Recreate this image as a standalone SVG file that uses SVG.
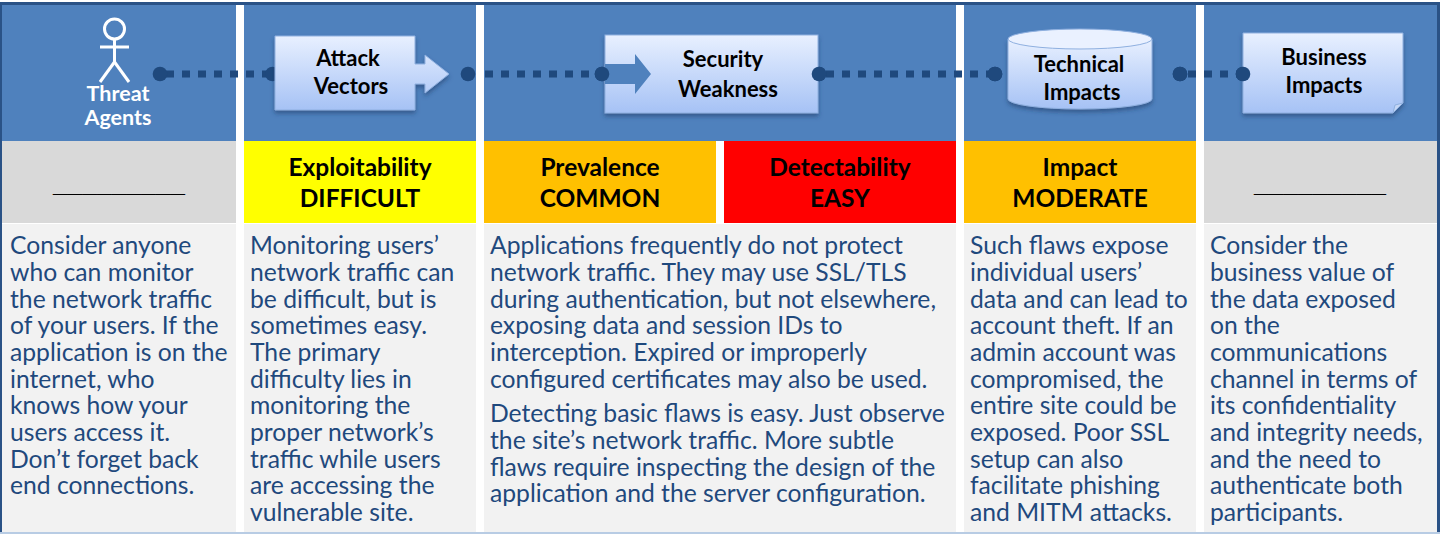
<svg xmlns="http://www.w3.org/2000/svg" width="1440" height="535" viewBox="0 0 1440 535">
<style>
.hdr{fill:#4f81bd}
.txtbg{fill:#f2f2f2}
.body{font-family:Lato,"Liberation Sans",sans-serif;font-size:24.7px;fill:#1f497d}
.rate{font-family:Lato,"Liberation Sans",sans-serif;font-size:24.5px;font-weight:bold;fill:#000;text-anchor:middle}
.lbl{font-family:Lato,"Liberation Sans",sans-serif;font-size:22px;font-weight:bold;fill:#000;text-anchor:middle}
.wlbl{font-family:Lato,"Liberation Sans",sans-serif;font-size:21.5px;font-weight:bold;fill:#fff;text-anchor:middle}
.dash{font-family:"Liberation Sans",sans-serif;font-size:26.4px;font-weight:bold;fill:#000;text-anchor:middle}
.box{fill:url(#boxgrad);stroke:#8fb0e0;stroke-width:1;filter:url(#shadow)}
.conn{stroke:#1f497d;stroke-width:7;stroke-dasharray:8 8;fill:none}
.dot{fill:#1f497d}
</style>
<defs>
<linearGradient id="boxgrad" x1="0" y1="0" x2="0" y2="1">
<stop offset="0" stop-color="#e8f0ff"/>
<stop offset="1" stop-color="#a6c2f5"/>
</linearGradient>
<filter id="shadow" x="-10%" y="-10%" width="120%" height="140%">
<feDropShadow dx="0" dy="3" stdDeviation="2" flood-color="#1c3a66" flood-opacity="0.55"/>
</filter>
</defs>

<!-- frame -->
<rect x="0" y="0" width="1440" height="535" fill="#ffffff"/>
<rect x="0" y="2" width="1440" height="3" fill="#2a5286"/>
<rect x="0" y="2" width="2" height="531" fill="#2a5286"/>
<rect x="1437" y="2" width="3" height="531" fill="#2a5286"/>
<rect x="0" y="532" width="1440" height="2" fill="#b8cce4"/>

<!-- column backgrounds -->
<g id="col-threat-agents">
<rect class="hdr" x="2" y="5" width="234" height="136"/>
<rect x="2" y="141" width="234" height="82" fill="#d9d9d9"/>
<rect class="txtbg" x="2" y="224" width="234" height="308"/>
</g>
<g id="col-attack-vectors">
<rect class="hdr" x="244" y="5" width="232" height="136"/>
<rect x="244" y="141" width="232" height="82" fill="#ffff00"/>
<rect class="txtbg" x="244" y="224" width="232" height="308"/>
</g>
<g id="col-security-weakness">
<rect class="hdr" x="484" y="5" width="472" height="136"/>
<rect x="484" y="141" width="232" height="82" fill="#ffc000"/>
<rect x="724" y="141" width="232" height="82" fill="#ff0000"/>
<rect class="txtbg" x="484" y="224" width="472" height="308"/>
</g>
<g id="col-technical-impacts">
<rect class="hdr" x="964" y="5" width="232" height="136"/>
<rect x="964" y="141" width="232" height="82" fill="#ffc000"/>
<rect class="txtbg" x="964" y="224" width="232" height="308"/>
</g>
<g id="col-business-impacts">
<rect class="hdr" x="1204" y="5" width="233" height="136"/>
<rect x="1204" y="141" width="233" height="82" fill="#d9d9d9"/>
<rect class="txtbg" x="1204" y="224" width="233" height="308"/>
</g>

<!-- connectors -->
<g id="connectors">
<line class="conn" x1="166" y1="74" x2="270" y2="74"/>
<line class="conn" x1="485" y1="74" x2="598" y2="74"/>
<line class="conn" x1="826" y1="74" x2="990" y2="74"/>
<line class="conn" x1="1188" y1="74" x2="1238" y2="74"/>
<circle class="dot" cx="160" cy="74" r="7.3"/>
<circle class="dot" cx="272.5" cy="74" r="7.3"/>
<circle class="dot" cx="468" cy="74" r="7.3"/>
<circle class="dot" cx="602" cy="74" r="7.3"/>
<circle class="dot" cx="819" cy="74" r="7.3"/>
<circle class="dot" cx="995" cy="74" r="7.3"/>
<circle class="dot" cx="1180" cy="74" r="7.3"/>
<circle class="dot" cx="1243" cy="74" r="7.3"/>
</g>

<!-- header nodes -->
<g id="threat-agents">
<g fill="none" stroke="#ffffff" stroke-width="3" stroke-linecap="butt">
<circle cx="114.5" cy="29" r="10"/>
<line x1="114.5" y1="39" x2="114.5" y2="63"/>
<line x1="100" y1="47" x2="129" y2="47"/>
<line x1="114.5" y1="62" x2="100" y2="82"/>
<line x1="114.5" y1="62" x2="129" y2="82"/>
</g>
<text class="wlbl" x="118" y="100.5">Threat</text>
<text class="wlbl" x="118" y="124.5">Agents</text>
</g>

<g id="attack-vectors">
<path class="box" d="M275,36 H415 V64 H425 V55 L449,74 L425,93 V84 H415 V110 H275 Z"/>
<text class="lbl" x="348" y="66">Attack</text>
<text class="lbl" x="351" y="94">Vectors</text>
</g>

<g id="security-weakness">
<rect class="box" x="605" y="35" width="213" height="78"/>
<path d="M605,64 H635 V54 L651,74 L635,94 V84 H605 Z" fill="#4f81bd"/>
<text class="lbl" x="723" y="67">Security</text>
<text class="lbl" x="728" y="97">Weakness</text>
<circle class="dot" cx="602" cy="74" r="7.3"/>
<circle class="dot" cx="819" cy="74" r="7.3"/>
</g>

<g id="technical-impacts">
<path class="box" d="M1008,39 V99 A72,10 0 0 0 1152,99 V39 Z"/>
<ellipse cx="1080" cy="39" rx="72" ry="10" fill="#eaf1ff" stroke="#8fb0e0" stroke-width="1"/>
<text class="lbl" x="1079" y="72">Technical</text>
<text class="lbl" x="1082" y="100">Impacts</text>
<circle class="dot" cx="995" cy="74" r="7.3"/>
<circle class="dot" cx="1180" cy="74" r="7.3"/>
</g>

<g id="business-impacts">
<path class="box" d="M1243,33 H1403 V103 L1393,113 H1243 Z"/>
<path d="M1393,113 L1395,105 L1403,103 Z" fill="#c4d6f5" stroke="#8fb0e0" stroke-width="1"/>
<text class="lbl" x="1324" y="65">Business</text>
<text class="lbl" x="1324" y="93">Impacts</text>
<circle class="dot" cx="1243" cy="74" r="7.3"/>
</g>

<!-- rating row -->
<g id="rating-threat-agents">
<text class="dash" x="119" y="192">_________</text>
</g>
<g id="rating-exploitability">
<text class="rate" x="360" y="176">Exploitability</text>
<text class="rate" x="360" y="207">DIFFICULT</text>
</g>
<g id="rating-prevalence">
<text class="rate" x="600" y="176">Prevalence</text>
<text class="rate" x="600" y="207">COMMON</text>
</g>
<g id="rating-detectability">
<text class="rate" x="840" y="176">Detectability</text>
<text class="rate" x="840" y="207">EASY</text>
</g>
<g id="rating-impact">
<text class="rate" x="1080" y="176">Impact</text>
<text class="rate" x="1080" y="207">MODERATE</text>
</g>
<g id="rating-business-impacts">
<text class="dash" x="1320" y="192">_________</text>
</g>

<!-- descriptions -->
<g id="desc-threat-agents">
<text class="body" x="10" y="254.3">Consider anyone</text>
<text class="body" x="10" y="281">who can monitor</text>
<text class="body" x="10" y="307.6">the network traffic</text>
<text class="body" x="10" y="334.3">of your users. If the</text>
<text class="body" x="10" y="361">application is on the</text>
<text class="body" x="10" y="387.6">internet, who</text>
<text class="body" x="10" y="414.3">knows how your</text>
<text class="body" x="10" y="441">users access it.</text>
<text class="body" x="10" y="467.6">Don’t forget back</text>
<text class="body" x="10" y="494.3">end connections.</text>
</g>
<g id="desc-attack-vectors">
<text class="body" x="250" y="254.3">Monitoring users’</text>
<text class="body" x="250" y="281">network traffic can</text>
<text class="body" x="250" y="307.6">be difficult, but is</text>
<text class="body" x="250" y="334.3">sometimes easy.</text>
<text class="body" x="250" y="361">The primary</text>
<text class="body" x="250" y="387.6">difficulty lies in</text>
<text class="body" x="250" y="414.3">monitoring the</text>
<text class="body" x="250" y="441">proper network’s</text>
<text class="body" x="250" y="467.6">traffic while users</text>
<text class="body" x="250" y="494.3">are accessing the</text>
<text class="body" x="250" y="521">vulnerable site.</text>
</g>
<g id="desc-security-weakness">
<text class="body" x="490" y="254.3">Applications frequently do not protect</text>
<text class="body" x="490" y="281">network traffic. They may use SSL/TLS</text>
<text class="body" x="490" y="307.6">during authentication, but not elsewhere,</text>
<text class="body" x="490" y="334.3">exposing data and session IDs to</text>
<text class="body" x="490" y="361">interception. Expired or improperly</text>
<text class="body" x="490" y="387.6">configured certificates may also be used.</text>
<text class="body" x="490" y="422.3">Detecting basic flaws is easy. Just observe</text>
<text class="body" x="490" y="449">the site’s network traffic. More subtle</text>
<text class="body" x="490" y="475.6">flaws require inspecting the design of the</text>
<text class="body" x="490" y="502.3">application and the server configuration.</text>
</g>
<g id="desc-technical-impacts">
<text class="body" x="970" y="254.3">Such flaws expose</text>
<text class="body" x="970" y="281">individual users’</text>
<text class="body" x="970" y="307.6">data and can lead to</text>
<text class="body" x="970" y="334.3">account theft. If an</text>
<text class="body" x="970" y="361">admin account was</text>
<text class="body" x="970" y="387.6">compromised, the</text>
<text class="body" x="970" y="414.3">entire site could be</text>
<text class="body" x="970" y="441">exposed. Poor SSL</text>
<text class="body" x="970" y="467.6">setup can also</text>
<text class="body" x="970" y="494.3">facilitate phishing</text>
<text class="body" x="970" y="521">and MITM attacks.</text>
</g>
<g id="desc-business-impacts">
<text class="body" x="1210" y="254.3">Consider the</text>
<text class="body" x="1210" y="281">business value of</text>
<text class="body" x="1210" y="307.6">the data exposed</text>
<text class="body" x="1210" y="334.3">on the</text>
<text class="body" x="1210" y="361">communications</text>
<text class="body" x="1210" y="387.6">channel in terms of</text>
<text class="body" x="1210" y="414.3">its confidentiality</text>
<text class="body" x="1210" y="441">and integrity needs,</text>
<text class="body" x="1210" y="467.6">and the need to</text>
<text class="body" x="1210" y="494.3">authenticate both</text>
<text class="body" x="1210" y="521">participants.</text>
</g>
</svg>
